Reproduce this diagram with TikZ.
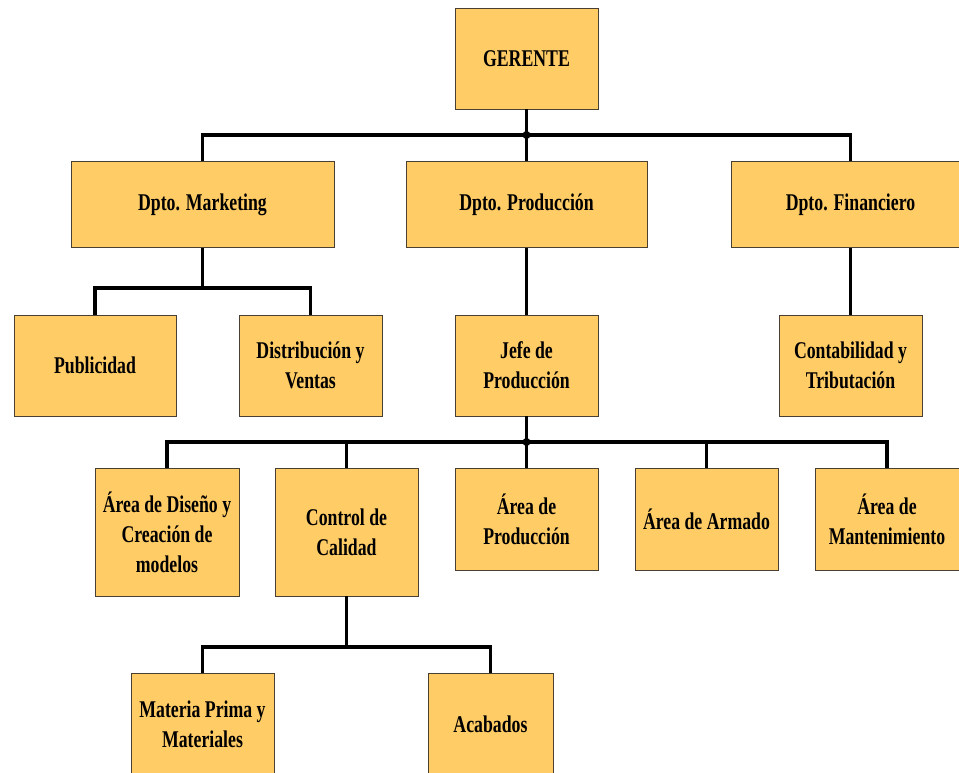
\documentclass[tikz,border=0pt]{standalone}
\usepackage{fontspec}
\setmainfont{Liberation Serif}[FakeStretch=0.74]
\definecolor{boxfill}{HTML}{FFCC66}
\definecolor{boxline}{HTML}{4A4032}
\tikzset{
  orgbox/.style={draw=boxline, line width=0.9pt, fill=boxfill, inner sep=0pt,
    align=center, text=black, font=\bfseries\fontsize{24}{30}\selectfont},
  conn/.style={line width=3.6pt, black, line join=miter},
}
\begin{document}
\begin{tikzpicture}[x=1pt,y=-1pt]
\useasboundingbox (0,0) rectangle (959,772);
\clip (0,0) rectangle (959,772);
% level 1
\node[orgbox, minimum width=143pt, minimum height=101pt] (ger) at (526.5,58.5) {GERENTE};
% level 2
\node[orgbox, minimum width=263pt, minimum height=86pt] (mkt) at (202.5,204.5) {Dpto. Marketing};
\node[orgbox, minimum width=241pt, minimum height=86pt] (prod) at (526.5,204.5) {Dpto. Producción};
\node[orgbox, minimum width=239pt, minimum height=86pt] (fin) at (850.5,204.5) {Dpto. Financiero};
% level 3
\node[orgbox, minimum width=162pt, minimum height=101pt] (pub) at (95,365.5) {Publicidad};
\node[orgbox, minimum width=143pt, minimum height=101pt] (dist) at (310.5,365.5) {Distribución y\\Ventas};
\node[orgbox, minimum width=143pt, minimum height=101pt] (jefe) at (526.5,365.5) {Jefe de\\Producción};
\node[orgbox, minimum width=143pt, minimum height=101pt] (cont) at (850.5,365.5) {Contabilidad y\\Tributación};
% level 4
\node[orgbox, minimum width=144pt, minimum height=128pt] (dis) at (167,532) {Área de Diseño y\\Creación de\\modelos};
\node[orgbox, minimum width=143pt, minimum height=128pt] (cal) at (346.5,532) {Control de\\Calidad};
\node[orgbox, minimum width=143pt, minimum height=102pt] (apr) at (526.5,519) {Área de\\Producción};
\node[orgbox, minimum width=143pt, minimum height=102pt] (arm) at (706.5,519) {Área de Armado};
\node[orgbox, minimum width=144pt, minimum height=102pt] (man) at (887,519) {Área de\\Mantenimiento};
% level 5
\node[orgbox, minimum width=143pt, minimum height=102pt] (mat) at (202.5,724) {Materia Prima y\\Materiales};
\node[orgbox, minimum width=125pt, minimum height=102pt] (aca) at (490.5,724) {Acabados};
% connectors
\coordinate (j1) at (526.5,135);
\coordinate (j2) at (202.5,288);
\coordinate (j3) at (526.5,442);
\coordinate (j4) at (346.5,647);
\draw[conn] (ger.south) -- (j1);
\draw[conn] (j1) -- (prod.north);
\draw[conn] (j1) -| (mkt.north);
\draw[conn] (j1) -| (fin.north);
\fill (j1) circle (4pt);
\draw[conn] (mkt.south) -- (j2);
\draw[conn] (j2) -| (pub.north);
\draw[conn] (j2) -| (dist.north);
\draw[conn] (prod.south) -- (jefe.north);
\draw[conn] (fin.south) -- (cont.north);
\draw[conn] (jefe.south) -- (j3);
\draw[conn] (j3) -- (apr.north);
\draw[conn] (j3) -| (dis.north);
\draw[conn] (j3) -| (cal.north);
\draw[conn] (j3) -| (arm.north);
\draw[conn] (j3) -| (man.north);
\fill (j3) circle (4pt);
\draw[conn] (cal.south) -- (j4);
\draw[conn] (j4) -| (mat.north);
\draw[conn] (j4) -| (aca.north);
\end{tikzpicture}
\end{document}
